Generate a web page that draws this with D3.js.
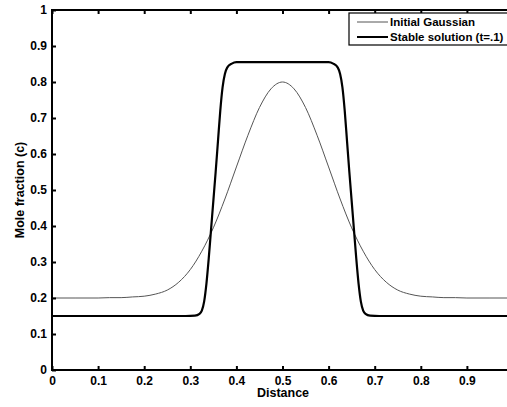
<!DOCTYPE html>
<html>
<head>
<meta charset="utf-8">
<script src="https://cdn.jsdelivr.net/npm/d3@7"></script>
<style>
  body { margin: 0; background: #fff; }
  svg { display: block; font-family: "Liberation Sans", Arial, sans-serif; }
</style>
</head>
<body>
<div id="chart"></div>
<script>
// Initial Gaussian
const gaussDistance = [0, 0.05, 0.1, 0.125, 0.15, 0.175, 0.2, 0.225, 0.25, 0.275, 0.3, 0.325, 0.35, 0.375, 0.4, 0.425, 0.45, 0.475, 0.5,
  0.525, 0.55, 0.575, 0.6, 0.625, 0.65, 0.675, 0.7, 0.725, 0.75, 0.775, 0.8, 0.825, 0.85, 0.875, 0.9, 0.95, 1];
const gaussValues = [0.2, 0.2, 0.2, 0.201, 0.201, 0.203, 0.205, 0.211, 0.222, 0.244, 0.279, 0.33, 0.395, 0.475, 0.564, 0.652, 0.729, 0.781, 0.8,
  0.781, 0.729, 0.652, 0.564, 0.475, 0.395, 0.33, 0.279, 0.244, 0.222, 0.211, 0.205, 0.203, 0.201, 0.201, 0.2, 0.2, 0.2];

// Stable solution (t=.1)
const stableDistance = [0, 0.1, 0.2, 0.29, 0.31, 0.32, 0.325, 0.33, 0.335, 0.34, 0.345, 0.35, 0.355, 0.36, 0.365, 0.37, 0.375, 0.38, 0.39, 0.4, 0.5,
  0.6, 0.61, 0.62, 0.625, 0.63, 0.635, 0.64, 0.645, 0.65, 0.655, 0.66, 0.665, 0.67, 0.675, 0.68, 0.69, 0.71, 0.8, 0.9, 1];
const stableValues = [0.15, 0.15, 0.15, 0.15, 0.151, 0.156, 0.165, 0.19, 0.24, 0.31, 0.39, 0.47, 0.55, 0.635, 0.72, 0.785, 0.822, 0.84, 0.851, 0.855, 0.855,
  0.855, 0.851, 0.84, 0.822, 0.785, 0.72, 0.635, 0.55, 0.47, 0.39, 0.31, 0.24, 0.19, 0.165, 0.156, 0.151, 0.15, 0.15, 0.15, 0.15];

// the tick at 1 falls outside the picture, so only 0 - 0.9 are labelled
const xTicks = [0, 0.1, 0.2, 0.3, 0.4, 0.5, 0.6, 0.7, 0.8, 0.9];
const yTicks = [0, 0.1, 0.2, 0.3, 0.4, 0.5, 0.6, 0.7, 0.8, 0.9, 1];
const seriesNames = ["Initial Gaussian", "Stable solution (t=.1)"];

const width = 507, height = 407;
const margin = { top: 10, left: 52, bottom: 37 };
const plotRight = 513; // axes run past the right edge of the picture

const svg = d3.select("#chart").append("svg")
  .attr("width", width)
  .attr("height", height);

const x = d3.scaleLinear().domain([0, 1]).range([margin.left, plotRight]);
const y = d3.scaleLinear().domain([0, 1]).range([height - margin.bottom, margin.top]);

const fmt = d => d === 0 ? "0" : d === 1 ? "1" : d3.format(".1f")(d);

// curves
const line = d3.line().x(d => x(d[0])).y(d => y(d[1])).curve(d3.curveMonotoneX);

svg.append("path")
  .datum(d3.zip(gaussDistance, gaussValues))
  .attr("d", line)
  .attr("fill", "none")
  .attr("stroke", "#555")
  .attr("stroke-width", 1);

svg.append("path")
  .datum(d3.zip(stableDistance, stableValues))
  .attr("d", line)
  .attr("fill", "none")
  .attr("stroke", "#000")
  .attr("stroke-width", 2.2);

// axes, ticks point inward
const xAxis = svg.append("g")
  .attr("transform", `translate(0,${y(0)})`)
  .call(d3.axisBottom(x).tickValues(xTicks).tickFormat(fmt).tickSize(-4).tickPadding(6));

const xTop = svg.append("g")
  .attr("transform", `translate(0,${y(1)})`)
  .call(d3.axisTop(x).tickValues(xTicks).tickFormat("").tickSize(-4));

const yAxis = svg.append("g")
  .attr("transform", `translate(${x(0)},0)`)
  .call(d3.axisLeft(y).tickValues(yTicks).tickFormat(fmt).tickSize(-4).tickPadding(5));

[xAxis, xTop, yAxis].forEach(g => {
  g.select(".domain").remove();
  g.selectAll(".tick line").attr("stroke", "#000").attr("stroke-width", 2);
  g.selectAll("text")
    .attr("fill", "#000")
    .attr("font-size", 12)
    .attr("font-weight", "bold")
    .attr("font-family", "'Liberation Sans', Arial, sans-serif");
});

svg.append("rect")
  .attr("x", x(0))
  .attr("y", y(1))
  .attr("width", plotRight - x(0))
  .attr("height", y(0) - y(1))
  .attr("fill", "none")
  .attr("stroke", "#000")
  .attr("stroke-width", 2);

// axis titles
svg.append("text")
  .attr("x", 283)
  .attr("y", 397)
  .attr("text-anchor", "middle")
  .attr("font-size", 12.5)
  .attr("font-weight", "bold")
  .text("Distance");

svg.append("text")
  .attr("transform", `translate(24,${y(0.5)}) rotate(-90)`)
  .attr("text-anchor", "middle")
  .attr("font-size", 12.5)
  .attr("font-weight", "bold")
  .text("Mole fraction (c)");

// legend
const legend = svg.append("g").attr("transform", "translate(349,13)");
legend.append("rect")
  .attr("width", 162)
  .attr("height", 32)
  .attr("fill", "#fff")
  .attr("stroke", "#000")
  .attr("stroke-width", 1.2);

const legendStyles = [{ stroke: "#555", w: 1 }, { stroke: "#000", w: 2 }];
seriesNames.forEach((name, i) => {
  const row = legend.append("g").attr("transform", `translate(0,${9 + i * 15})`);
  row.append("line")
    .attr("x1", 8).attr("x2", 39)
    .attr("stroke", legendStyles[i].stroke)
    .attr("stroke-width", legendStyles[i].w);
  row.append("text")
    .attr("x", 41)
    .attr("dy", "0.35em")
    .attr("font-size", 11.5)
    .attr("font-weight", "bold")
    .text(name);
});
</script>
</body>
</html>
